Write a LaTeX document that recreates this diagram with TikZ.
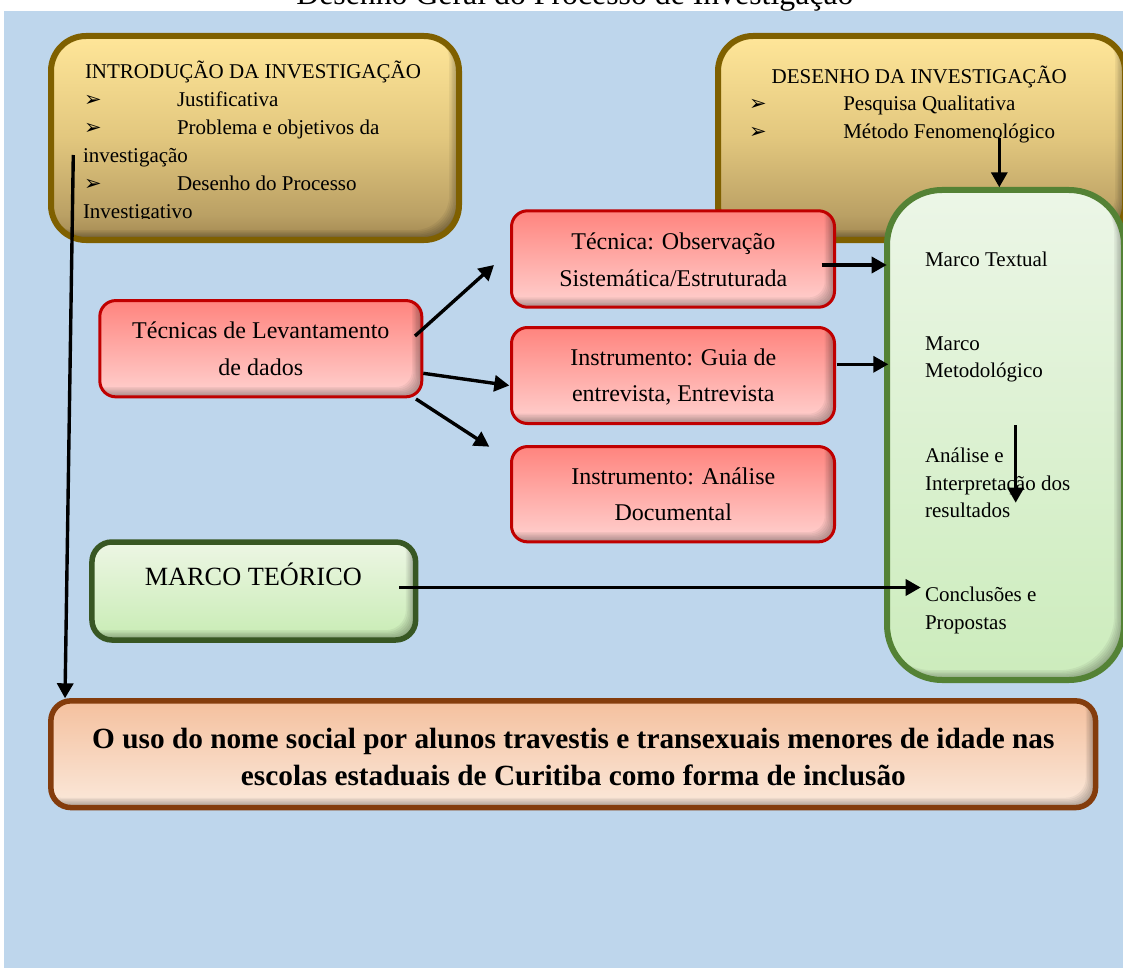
\documentclass[tikz,border=0pt]{standalone}
\usepackage{fontspec}
\setmainfont{Liberation Serif}
\newfontfamily\bulletfont{DejaVu Sans}
\usetikzlibrary{arrows.meta}

% palette
\definecolor{bgblue}{RGB}{190,214,236}
\definecolor{goldedge}{RGB}{127,96,0}
\definecolor{goldA}{RGB}{255,230,153}
\definecolor{goldB}{RGB}{226,199,126}
\definecolor{goldC}{RGB}{186,160,100}
\definecolor{goldD}{RGB}{160,135,80}
\definecolor{rededge}{RGB}{192,0,0}
\definecolor{redA}{RGB}{255,132,126}
\definecolor{redB}{RGB}{255,210,208}
\definecolor{greenedge}{RGB}{84,130,53}
\definecolor{greenA}{RGB}{236,246,231}
\definecolor{greenB}{RGB}{204,236,188}
\definecolor{darkgreenedge}{RGB}{56,87,35}
\definecolor{lgreenA}{RGB}{237,246,228}
\definecolor{lgreenB}{RGB}{200,236,180}
\definecolor{brownedge}{RGB}{132,60,12}
\definecolor{peachA}{RGB}{244,192,158}
\definecolor{peachB}{RGB}{251,233,219}

% vertical fills (bottom colour at 25bp, top colour at 75bp)
\pgfdeclareverticalshading{goldsh}{100bp}{color(0bp)=(goldD); color(25bp)=(goldD); color(31bp)=(goldC); color(50bp)=(goldB); color(75bp)=(goldA); color(100bp)=(goldA)}
\pgfdeclareverticalshading{redsh}{100bp}{color(0bp)=(redB); color(25bp)=(redB); color(75bp)=(redA); color(100bp)=(redA)}
\pgfdeclareverticalshading{greensh}{100bp}{color(0bp)=(greenB); color(25bp)=(greenB); color(75bp)=(greenA); color(100bp)=(greenA)}
\pgfdeclareverticalshading{lgreensh}{100bp}{color(0bp)=(lgreenB); color(25bp)=(lgreenB); color(75bp)=(lgreenA); color(100bp)=(lgreenA)}
\pgfdeclareverticalshading{peachsh}{100bp}{color(0bp)=(peachB); color(25bp)=(peachB); color(75bp)=(peachA); color(100bp)=(peachA)}

\tikzset{
  % soft inner shadow along the lower and right edges of a box
  inshadow/.style={path picture={
    \foreach \k in {1,...,7}{
      \fill[black, opacity=0.05, even odd rule]
        ([shift={(-40pt,-40pt)}]path picture bounding box.south west)
          rectangle ([shift={(40pt,40pt)}]path picture bounding box.north east)
        [rounded corners=#1]
        ([shift={(-1.4*\k pt,1.4*\k pt)}]path picture bounding box.south west)
          rectangle ([shift={(-1.4*\k pt,1.4*\k pt)}]path picture bounding box.north east);
    }}},
  panel/.style={rectangle, inner sep=0pt, outer sep=0pt, shade},
  goldbox/.style={panel, shading=goldsh, draw=goldedge, line width=6pt, rounded corners=35pt, inshadow=35pt},
  redbox/.style={panel, shading=redsh, draw=rededge, line width=3pt, rounded corners=16pt, inshadow=16pt},
  greenbox/.style={panel, shading=greensh, draw=greenedge, line width=6pt, rounded corners=55pt, inshadow=55pt},
  theorybox/.style={panel, shading=lgreensh, draw=darkgreenedge, line width=5.5pt, rounded corners=20pt, inshadow=20pt},
  topicbox/.style={panel, shading=peachsh, draw=brownedge, line width=5.5pt, rounded corners=20pt, inshadow=20pt},
  txt/.style={inner sep=0pt, outer sep=0pt, font=\fontsize{21}{25}\selectfont},
  redtxt/.style={inner sep=0pt, outer sep=0pt, anchor=base, font=\fontsize{24}{28}\selectfont},
  bul/.style={inner sep=0pt, outer sep=0pt, anchor=base west, font=\bulletfont\fontsize{21}{24}\selectfont},
  arr/.style={line width=3.4pt, -{Triangle[length=15pt,width=16pt]}},
}

\begin{document}
\begin{tikzpicture}[x=1pt, y=-1pt]
\useasboundingbox (0,0) rectangle (1123,968);

% heading, partly above the page
\node[inner sep=0pt, anchor=base, font=\fontsize{31.8}{36}\selectfont] (titulo) at (574.9,4.5) {Desenho Geral do Processo de Investigação};

% backdrop
\fill[bgblue] (4,11) rectangle (1123,968);

% panels
\node[goldbox, minimum width=408pt, minimum height=204pt] (intro) at (255,138) {};
\node[goldbox, minimum width=407pt, minimum height=204pt] (design) at (921.5,138) {};
\node[greenbox, minimum width=237pt, minimum height=490pt] (marcos) at (1005.5,435) {};
\node[redbox, minimum width=323pt, minimum height=96.4pt] (obs) at (673,259) {};
\node[redbox, minimum width=323pt, minimum height=96pt] (guia) at (673,375.5) {};
\node[redbox, minimum width=323pt, minimum height=95.3pt] (doc) at (673,494.2) {};
\node[redbox, minimum width=322pt, minimum height=96.3pt] (tec) at (260.8,348.7) {};
\node[theorybox, minimum width=323.7pt, minimum height=98pt] (teo) at (253.8,591) {};
\node[topicbox, minimum width=1044.7pt, minimum height=106.7pt] (tema) at (573.2,754.2) {};

% introduction text (last line is cut by the panel edge)
\begin{scope}
  \clip (0,0) rectangle (1123,218.5);
  \node[txt, anchor=base west] (i0) at (85,78.3) {INTRODUÇÃO DA INVESTIGAÇÃO};
  \node[bul] (ib1) at (84,106.7) {➢};
  \node[txt, anchor=base west] (i1) at (177,106.7) {Justificativa};
  \node[bul] (ib2) at (84,134.7) {➢};
  \node[txt, anchor=base west] (i2) at (177,134.7) {Problema e objetivos da};
  \node[txt, anchor=base west] (i3) at (83,162.7) {investigação};
  \node[bul] (ib3) at (84,190.7) {➢};
  \node[txt, anchor=base west] (i4) at (177,190.7) {Desenho do Processo};
  \node[txt, anchor=base west] (i5) at (83,218.7) {Investigativo};
\end{scope}

% research design text
\node[txt, anchor=base west] (d0) at (771.7,83.3) {DESENHO DA INVESTIGAÇÃO};
\node[bul] (db1) at (749,110.3) {➢};
\node[txt, anchor=base west] (d1) at (843.3,110.3) {Pesquisa Qualitativa};
\node[bul] (db2) at (749,138.3) {➢};
\node[txt, anchor=base west] (d2) at (843.3,138.3) {Método Fenomenológico};

% stages column
\node[txt, anchor=base west] (m1) at (925,266) {Marco Textual};
\node[txt, anchor=base west] (m2a) at (925,350) {Marco};
\node[txt, anchor=base west] (m2b) at (925,377.3) {Metodológico};
\node[txt, anchor=base west] (m3a) at (925,462.7) {Análise e};
\node[txt, anchor=base west] (m3b) at (925,490.7) {Interpretação dos};
\node[txt, anchor=base west] (m3c) at (925,517.3) {resultados};
\node[txt, anchor=base west] (m4a) at (925,601.7) {Conclusões e};
\node[txt, anchor=base west] (m4b) at (925,629.3) {Propostas};

% data collection boxes
\node[redtxt] (t1) at (260.8,338.3) {Técnicas de Levantamento};
\node[redtxt] (t2) at (260.8,375) {de dados};
\node[redtxt] (o1) at (673.3,250) {Técnica: Observação};
\node[redtxt] (o2) at (673.3,286) {Sistemática/Estruturada};
\node[redtxt] (g1) at (673.3,365.7) {Instrumento: Guia de};
\node[redtxt] (g2) at (673.3,401.7) {entrevista, Entrevista};
\node[redtxt] (a1) at (673.3,484) {Instrumento: Análise};
\node[redtxt] (a2) at (673.3,520) {Documental};

% theory and topic
\node[inner sep=0pt, anchor=base, font=\fontsize{26.3}{30}\selectfont] (teotxt) at (253.3,585) {MARCO TEÓRICO};
\node[inner sep=0pt, anchor=base, font=\bfseries\fontsize{29.3}{34}\selectfont] (tm1) at (573.4,748.3) {O uso do nome social por alunos travestis e transexuais menores de idade nas};
\node[inner sep=0pt, anchor=base, font=\bfseries\fontsize{29.3}{34}\selectfont] (tm2) at (573.4,785) {escolas estaduais de Curitiba como forma de inclusão};

% connector ends
\coordinate (introout) at (73.3,155);
\coordinate (temain) at (65,698.3);
\coordinate (tecup) at (415,336);
\coordinate (tecupend) at (494,265);
\coordinate (tecmid) at (423.3,373.3);
\coordinate (tecmidend) at (509.3,385.5);
\coordinate (teclow) at (416,399);
\coordinate (teclowend) at (489.3,446.7);
\coordinate (obsout) at (821.7,265);
\coordinate (obsin) at (886.7,265);
\coordinate (guiaout) at (836.5,364.3);
\coordinate (guiain) at (888.3,364.3);
\coordinate (teoout) at (399.3,587.5);
\coordinate (teoin) at (920.7,587.5);
\coordinate (designout) at (999.3,138);
\coordinate (designin) at (999.3,187.3);
\coordinate (stageA) at (1015.7,425);
\coordinate (stageB) at (1015.7,502.7);

% connectors
\draw[arr] (introout) -- (temain);
\draw[arr] (tecup) -- (tecupend);
\draw[arr] (tecmid) -- (tecmidend);
\draw[arr] (teclow) -- (teclowend);
\draw[arr] (obsout) -- (obsin);
\draw[arr] (guiaout) -- (guiain);
\draw[arr] (teoout) -- (teoin);
\draw[arr] (designout) -- (designin);
\draw[arr] (stageA) -- (stageB);
\end{tikzpicture}
\end{document}
